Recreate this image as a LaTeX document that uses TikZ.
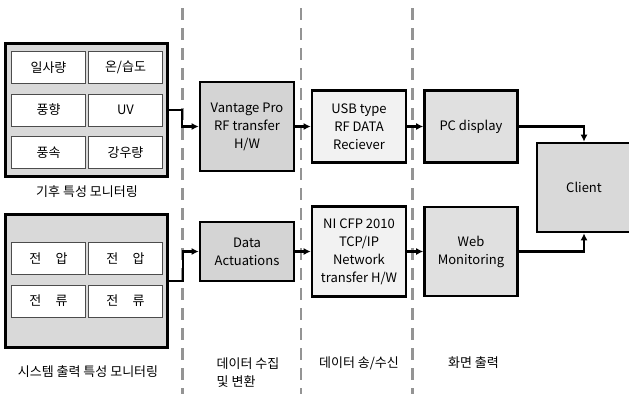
\documentclass[tikz,border=0pt]{standalone}
\usepackage{fontspec}
\setmainfont{Noto Sans CJK KR}
\usetikzlibrary{positioning,arrows.meta}

\begin{document}
\begin{tikzpicture}[x=1pt,y=-1pt,>={Latex[length=7pt,width=7pt]},node distance=112pt,
    every node/.style={font=\fontsize{13}{18}\selectfont,inner sep=0pt}]
  \tikzstyle{group}=[draw,line width=2.6pt,fill=black!15,minimum width=162pt,minimum height=133pt]
  \tikzstyle{cell}=[draw=black!70,line width=0.9pt,fill=white,minimum width=74pt,minimum height=32pt]
  \tikzstyle{block}=[draw,line width=2.6pt,minimum width=94pt,align=center]
  \tikzstyle{link}=[->,line width=2.2pt]
  \tikzstyle{divider}=[draw=black!42,line width=2.6pt,dash pattern=on 12pt off 8pt]
  \useasboundingbox (0,0) rectangle (629,394);

  % stage dividers
  \draw[divider] (182.5,8) -- (182.5,394);
  \draw[divider] (301,8) -- (301,394);
  \draw[divider] (412.5,8) -- (412.5,394);

  % weather monitoring
  \node [group] (wx) at (86.5,110) {};
  \node [cell] (w1) at (48.5,67.5) {일사량};
  \node [cell] (w2) [node distance=77pt,right of=w1] {온/습도};
  \node [cell] (w3) [node distance=42.5pt,below of=w1] {풍향};
  \node [cell] (w4) [node distance=77pt,right of=w3] {UV};
  \node [cell] (w5) [node distance=42.5pt,below of=w3] {풍속};
  \node [cell] (w6) [node distance=77pt,right of=w5] {강우량};
  \node (wxlabel) at (87,192) {기후 특성 모니터링};

  % system output monitoring
  \node [group] (sys) at (86.5,281) {};
  \node [cell] (s1) at (48.5,258.5) {전\hspace{1.1em}압};
  \node [cell] (s2) [node distance=77pt,right of=s1] {전\hspace{1.1em}압};
  \node [cell] (s3) [node distance=42.5pt,below of=s1] {전\hspace{1.1em}류};
  \node [cell] (s4) [node distance=77pt,right of=s3] {전\hspace{1.1em}류};
  \node (syslabel) at (88,372) {시스템 출력 특성 모니터링};

  % weather chain
  \node [block,fill=black!17,minimum height=89pt] (vp) at (247,126.5) {Vantage Pro\\RF transfer\\H/W};
  \node [block,fill=black!5,minimum height=72pt] (usb) [right of=vp] {USB type\\RF DATA\\Reciever};
  \node [block,fill=black!12,minimum height=72pt,minimum width=93pt] (pc) [right of=usb] {PC display};

  % system chain
  \node [block,fill=black!17,minimum height=59pt] (da) at (247,251.5) {Data\\Actuations};
  \node [block,fill=black!5,minimum height=90pt] (ni) [right of=da] {NI CFP 2010\\TCP/IP\\Network\\transfer H/W};
  \node [block,fill=black!12,minimum height=89pt,minimum width=93pt] (web) [right of=ni] {Web\\Monitoring};

  \node [block,fill=black!15,minimum height=89pt] (cl) at (584,187.5) {Client};

  % stage captions
  \node [align=left,anchor=west] (cap1) at (216.5,372.5) {데이터 수집\\및 변환};
  \node (cap2) at (359,363) {데이터 송/수신};
  \node (cap3) at (473.5,363) {화면 출력};

  \draw[link] (wx.east) -- ++(13.5,0) |- (vp.west);
  \draw[link] (sys.east) -- ++(14.5,0) |- (da.west);
  \path[link] (vp) edge (usb)
              (usb) edge (pc)
              (da) edge (ni)
              (ni) edge (web);
  \draw[link] (pc.east) -| (cl.north);
  \draw[link] (web.east) -| (cl.south);
\end{tikzpicture}
\end{document}
